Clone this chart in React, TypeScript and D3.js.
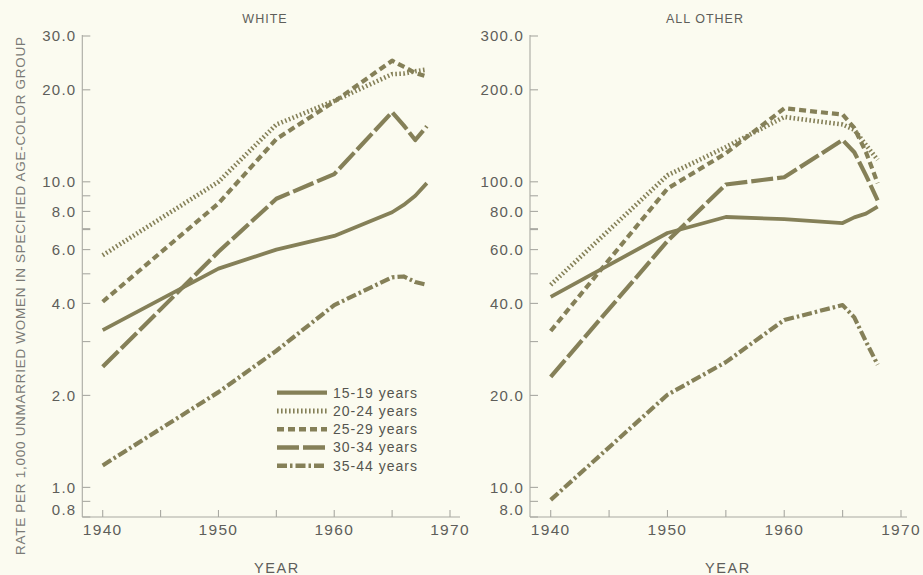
import React from "react";
import * as d3 from "d3";

// Survey years shared by every series
const YEARS = [1940, 1950, 1955, 1960, 1965, 1966, 1967, 1968];

const AGE_GROUPS = ["15-19 years", "20-24 years", "25-29 years", "30-34 years", "35-44 years"];

// Rates per 1,000 unmarried women — white
const WHITE_15_19 = [3.27, 5.2, 6.0, 6.65, 7.95, 8.4, 9.0, 9.9];
const WHITE_20_24 = [5.75, 10.0, 15.4, 18.4, 22.5, 22.6, 23.0, 23.3];
const WHITE_25_29 = [4.05, 8.5, 13.8, 18.3, 24.9, 23.8, 22.7, 22.1];
const WHITE_30_34 = [2.48, 5.9, 8.8, 10.6, 16.9, 15.3, 13.7, 15.2];
const WHITE_35_44 = [1.18, 2.05, 2.8, 3.95, 4.87, 4.9, 4.7, 4.6];

// Rates per 1,000 unmarried women — all other
const OTHER_15_19 = [42, 68, 76.7, 75.5, 73.3, 76.5, 78.7, 83];
const OTHER_20_24 = [46, 105, 130, 163, 154, 148, 132, 118];
const OTHER_25_29 = [32.5, 95, 124, 174, 166, 150, 125, 99];
const OTHER_30_34 = [23, 64, 98, 103.5, 137, 125, 105, 87];
const OTHER_35_44 = [9.1, 20.1, 25.7, 35.3, 39.5, 36, 30, 25.2];

// Axis ticks
const WHITE_MAJOR = [0.8, 1, 2, 4, 6, 8, 10, 20, 30];
const WHITE_MINOR = [0.9, 3, 5, 7, 9];
const OTHER_MAJOR = [8, 10, 20, 40, 60, 80, 100, 200, 300];
const OTHER_MINOR = [9, 30, 50, 70, 90];
const YEAR_TICKS = [1940, 1945, 1950, 1955, 1960, 1965, 1970];
const YEAR_LABELS = [1940, 1950, 1960, 1970];

const BG = "#fbfbf0";
const INK = "#858058";
const AXIS = "#a9a9a2";
const TEXT = "#5e5e5a";
const FONT = "'Liberation Sans', 'DejaVu Sans', sans-serif";

const STYLES = [
  { dash: "none", width: 3.8 },
  { dash: "1.6 2.4", width: 4.6 },
  { dash: "7 4", width: 4.2 },
  { dash: "22 4", width: 4.2 },
  { dash: "10 3 2.5 3", width: 4.2 },
];

type PanelProps = {
  title: string;
  titleX: number;
  series: number[][];
  yDomain: [number, number];
  xRange: [number, number];
  axisX: number;
  axisEnd: number;
  major: number[];
  minor: number[];
  yearX: number;
};

function Panel(p: PanelProps) {
  const x = d3.scaleLinear().domain([1940, 1970]).range(p.xRange);
  const y = d3.scaleLog().domain(p.yDomain).range([517, 36]);
  const baseY = y(p.yDomain[0]);
  const topY = y(p.yDomain[1]);
  const line = d3
    .line<number>()
    .x((_, i) => x(YEARS[i]))
    .y((v) => y(v));

  return (
    <g>
      <text x={p.titleX} y={23} textAnchor="middle" fontSize={12.5} letterSpacing={1} fill={TEXT} fontFamily={FONT}>
        {p.title}
      </text>
      {/* axes */}
      <line x1={p.axisX} x2={p.axisX} y1={topY - 1} y2={baseY} stroke={AXIS} strokeWidth={1.1} />
      <line x1={p.axisX} x2={p.axisEnd} y1={baseY} y2={baseY} stroke={AXIS} strokeWidth={1.1} />
      {p.major.concat(p.minor).map((v) => (
        <line
          key={"t" + v}
          x1={p.axisX}
          x2={p.axisX + 8}
          y1={y(v)}
          y2={y(v)}
          stroke={AXIS}
          strokeWidth={v === p.minor[3] ? 2 : 1.1}
        />
      ))}
      {p.major.map((v, i) => (
        <text
          key={"l" + v}
          x={p.axisX - 6}
          y={y(v) - (i === 0 ? 7 : 0)}
          dy="0.36em"
          textAnchor="end"
          fontSize={15}
          letterSpacing={1.2}
          fill={TEXT}
          fontFamily={FONT}
        >
          {v.toFixed(1)}
        </text>
      ))}
      {YEAR_TICKS.map((t) => (
        <line key={"x" + t} x1={x(t)} x2={x(t)} y1={baseY} y2={baseY - 7} stroke={AXIS} strokeWidth={1.1} />
      ))}
      {YEAR_LABELS.map((t) => (
        <text key={"xl" + t} x={x(t)} y={535} textAnchor="middle" fontSize={15.5} letterSpacing={1.3} fill={TEXT} fontFamily={FONT}>
          {t}
        </text>
      ))}
      <text x={p.yearX} y={573} textAnchor="middle" fontSize={14.5} letterSpacing={1.6} fill={TEXT} fontFamily={FONT}>
        YEAR
      </text>
      {/* series */}
      {p.series.map((vals, i) => (
        <path
          key={"s" + i}
          d={line(vals) || ""}
          fill="none"
          stroke={INK}
          strokeWidth={STYLES[i].width}
          strokeDasharray={STYLES[i].dash}
          strokeLinejoin="round"
        />
      ))}
    </g>
  );
}

export default function App() {
  const legendX = d3.scaleLinear().domain([0, 1]).range([277, 327]);
  const legendY = d3.scalePoint<string>().domain(AGE_GROUPS).range([392.7, 465.7]);

  return (
    <svg
      width={923}
      height={575}
      style={{ position: "absolute", left: 0, top: 0, background: BG }}
    >
      <rect width={923} height={575} fill={BG} />
      <text
        transform="translate(20,296) rotate(-90)"
        textAnchor="middle"
        dy="0.35em"
        fontSize={13.5}
        fill="#7a7a76"
        fontFamily={FONT}
        textLength={518}
        lengthAdjust="spacing"
      >
        RATE PER 1,000 UNMARRIED WOMEN IN SPECIFIED AGE-COLOR GROUP
      </text>
      <Panel
        title="WHITE"
        titleX={265}
        series={[WHITE_15_19, WHITE_20_24, WHITE_25_29, WHITE_30_34, WHITE_35_44]}
        yDomain={[0.8, 30]}
        xRange={[102.7, 450]}
        axisX={82.3}
        axisEnd={460}
        major={WHITE_MAJOR}
        minor={WHITE_MINOR}
        yearX={277}
      />
      <Panel
        title="ALL OTHER"
        titleX={705}
        series={[OTHER_15_19, OTHER_20_24, OTHER_25_29, OTHER_30_34, OTHER_35_44]}
        yDomain={[8, 300]}
        xRange={[550.7, 901]}
        axisX={530}
        axisEnd={907}
        major={OTHER_MAJOR}
        minor={OTHER_MINOR}
        yearX={728}
      />
      {/* legend */}
      {AGE_GROUPS.map((g, i) => (
        <g key={g}>
          <line
            x1={legendX(0)}
            x2={legendX(1)}
            y1={legendY(g)}
            y2={legendY(g)}
            stroke={INK}
            strokeWidth={STYLES[i].width + 0.4}
            strokeDasharray={STYLES[i].dash}
          />
          <text x={333} y={legendY(g)} dy="0.36em" fontSize={14} letterSpacing={1} fill="#55554f" fontFamily={FONT}>
            {g}
          </text>
        </g>
      ))}
    </svg>
  );
}
